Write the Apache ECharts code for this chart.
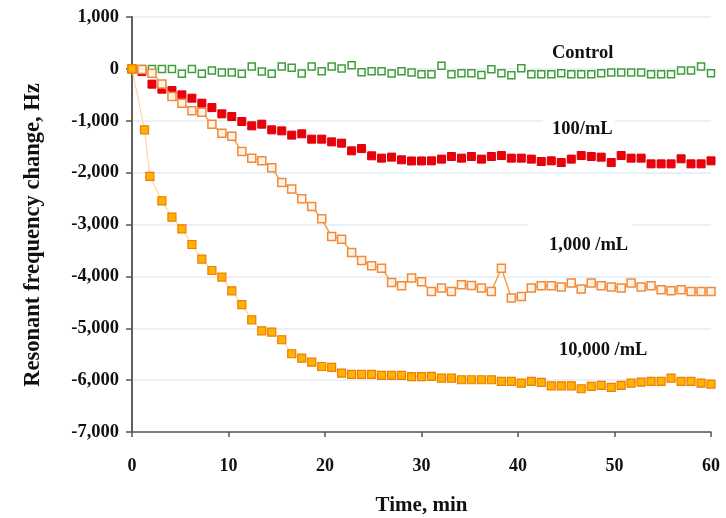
<!DOCTYPE html>
<html>
<head>
<meta charset="utf-8">
<script src="https://cdn.jsdelivr.net/npm/echarts@6/dist/echarts.min.js"></script>
<style>html,body{margin:0;padding:0;background:#fff}#c{width:726px;height:518px}</style>
</head>
<body>
<div id="c"></div>
<script>
// time (min) of each reading
var times = [0,1.03,2.07,3.10,4.14,5.17,6.21,7.24,8.28,9.31,10.34,11.38,12.41,13.45,14.48,15.52,16.55,17.59,18.62,19.66,20.69,21.72,22.76,23.79,24.83,25.86,26.90,27.93,28.97,30.00,31.03,32.07,33.10,34.14,35.17,36.21,37.24,38.28,39.31,40.34,41.38,42.41,43.45,44.48,45.52,46.55,47.59,48.62,49.66,50.69,51.72,52.76,53.79,54.83,55.86,56.90,57.93,58.97,60.00];
var times10k = [0,1.30,1.85,3.10,4.14,5.17,6.21,7.24,8.28,9.31,10.34,11.38,12.41,13.45,14.48,15.52,16.55,17.59,18.62,19.66,20.69,21.72,22.76,23.79,24.83,25.86,26.90,27.93,28.97,30.00,31.03,32.07,33.10,34.14,35.17,36.21,37.24,38.28,39.31,40.34,41.38,42.41,43.45,44.48,45.52,46.55,47.59,48.62,49.66,50.69,51.72,52.76,53.79,54.83,55.86,56.90,57.93,58.97,60.00];

var control = [0,0,0,0,0,-96,0,-96,-33,-71,-71,-96,44,-52,-96,45,20,-90,45,-45,45,5,70,-64,-45,-45,-90,-45,-70,-105,-102,58,-102,-83,-83,-116,-6,-83,-121,13,-102,-102,-102,-83,-102,-102,-102,-83,-71,-71,-71,-71,-102,-102,-102,-33,-33,44,-83];
var c100 = [0,-52,-295,-391,-418,-501,-565,-661,-746,-867,-919,-1015,-1098,-1066,-1175,-1195,-1277,-1252,-1355,-1355,-1407,-1432,-1580,-1536,-1676,-1721,-1701,-1753,-1775,-1775,-1773,-1740,-1690,-1721,-1690,-1740,-1690,-1671,-1721,-1721,-1740,-1786,-1773,-1806,-1740,-1671,-1690,-1702,-1806,-1671,-1721,-1721,-1831,-1831,-1831,-1734,-1831,-1831,-1773];
var c1000 = [0,-10,-83,-293,-534,-661,-809,-834,-1066,-1243,-1297,-1594,-1721,-1773,-1908,-2191,-2316,-2505,-2654,-2891,-3232,-3282,-3540,-3694,-3796,-3841,-4118,-4182,-4033,-4106,-4290,-4226,-4291,-4162,-4176,-4226,-4291,-3841,-4419,-4388,-4226,-4182,-4182,-4207,-4130,-4245,-4130,-4182,-4207,-4226,-4130,-4207,-4182,-4259,-4278,-4259,-4291,-4291,-4291];
var c10000 = [0,-1175,-2071,-2544,-2858,-3083,-3386,-3667,-3887,-4014,-4278,-4544,-4837,-5049,-5074,-5222,-5492,-5575,-5652,-5737,-5756,-5864,-5891,-5891,-5891,-5910,-5910,-5910,-5932,-5932,-5929,-5960,-5960,-5993,-5993,-5993,-5993,-6026,-6026,-6057,-6026,-6045,-6109,-6109,-6109,-6166,-6122,-6103,-6141,-6103,-6057,-6037,-6026,-6026,-5960,-6026,-6026,-6057,-6076];

var seriesNames = ['Control','100/mL','1,000 /mL','10,000 /mL'];
var xTicks = [0,10,20,30,40,50,60];
var yTicks = [1000,0,-1000,-2000,-3000,-4000,-5000,-6000,-7000];
var yTitle = 'Resonant frequency change, Hz';
var xTitle = 'Time, min';

function pairs(xs, ys){ return ys.map(function(v,i){ return [xs[i], v]; }); }
function fmt(v){ var s = Math.abs(v).toString().replace(/\B(?=(\d{3})+(?!\d))/g, ','); return (v<0?'-':'') + s; }

var FONT = '"Liberation Serif","Times New Roman",serif';
var LF = 'bold 18.5px ' + FONT;
var chart = echarts.init(document.getElementById('c'), null, {renderer:'canvas'});
chart.setOption({
  animation:false,
  backgroundColor:'#fff',
  grid:{left:132,right:15,top:17,bottom:86,containLabel:false,outerBoundsMode:'none'},
  xAxis:{
    type:'value',min:xTicks[0],max:xTicks[xTicks.length-1],interval:10,
    name:xTitle,nameLocation:'middle',nameGap:63,
    nameTextStyle:{fontFamily:FONT,fontWeight:'bold',fontSize:21,color:'#111'},
    axisLine:{show:true,onZero:false,lineStyle:{color:'#555',width:1.5}},
    axisTick:{show:true,length:5,lineStyle:{color:'#555',width:1.5}},
    axisLabel:{fontFamily:FONT,fontWeight:'bold',fontSize:18,color:'#111',margin:25},
    splitLine:{show:false}
  },
  yAxis:[{
    type:'value',min:yTicks[yTicks.length-1],max:yTicks[0],interval:1000,
    axisLine:{show:true,onZero:false,lineStyle:{color:'#555',width:1.5}},
    axisTick:{show:true,length:6,lineStyle:{color:'#555',width:1.5}},
    axisLabel:{fontFamily:FONT,fontWeight:'bold',fontSize:18.5,color:'#111',margin:13,formatter:function(v){return fmt(v);}},
    splitLine:{show:true,lineStyle:{color:'#e3ebf6',width:1.5}}
  },{
    type:'value',position:'right',min:yTicks[yTicks.length-1],max:yTicks[0],interval:1000,
    axisLine:{show:true,lineStyle:{color:'#555',width:1.5}},
    axisTick:{show:false},axisLabel:{show:false},splitLine:{show:false}
  }],
  graphic:[
    {type:'text',x:33,y:235,rotation:Math.PI/2,
     style:{text:yTitle,font:'bold 22.5px '+FONT,fill:'#111',textAlign:'center',textVerticalAlign:'middle'},z:6},
    {type:'rect',shape:{x:535,y:36,width:100,height:30},style:{fill:'#fff'},z:5},
    {type:'text',x:552,y:53,style:{text:seriesNames[0],font:LF,fill:'#111',textAlign:'left',textVerticalAlign:'middle'},z:6},
    {type:'rect',shape:{x:543,y:112,width:72,height:30},style:{fill:'#fff'},z:5},
    {type:'text',x:552,y:129,style:{text:seriesNames[1],font:LF,fill:'#111',textAlign:'left',textVerticalAlign:'middle'},z:6},
    {type:'rect',shape:{x:528,y:218,width:104,height:40},style:{fill:'#fff'},z:5},
    {type:'text',x:549,y:245,style:{text:seriesNames[2],font:LF,fill:'#111',textAlign:'left',textVerticalAlign:'middle'},z:6},
    {type:'text',x:559,y:350,style:{text:seriesNames[3],font:LF,fill:'#111',textAlign:'left',textVerticalAlign:'middle'},z:6}
  ],
  series:[
    {name:seriesNames[0],type:'line',data:pairs(times,control),symbol:'rect',symbolSize:7,
     lineStyle:{width:0,opacity:0},itemStyle:{color:'#fff',borderColor:'#3f9e3a',borderWidth:1.5},z:10},
    {name:seriesNames[1],type:'line',data:pairs(times,c100),symbol:'rect',symbolSize:8,
     lineStyle:{width:0,opacity:0},itemStyle:{color:'#ec0008',borderColor:'#d80010',borderWidth:1},z:11},
    {name:seriesNames[2],type:'line',data:pairs(times,c1000),symbol:'rect',symbolSize:8,
     lineStyle:{width:1.5,color:'#f5a04a'},itemStyle:{color:'#fff4e6',borderColor:'#f08a3c',borderWidth:1.5},z:12},
    {name:seriesNames[3],type:'line',data:pairs(times10k,c10000),symbol:'rect',symbolSize:8,
     lineStyle:{width:1.2,color:'#fbd7a0'},itemStyle:{color:'#ffb300',borderColor:'#f07c00',borderWidth:1.2},z:13}
  ]
});
</script>
</body>
</html>
